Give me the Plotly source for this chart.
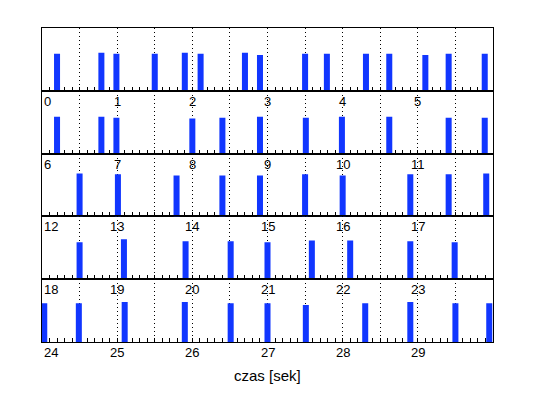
import plotly.graph_objects as go

# ---- data ----
ROW_SECONDS = 6
N_ROWS = 5
spike_times = [0.20, 0.79, 0.99, 1.50, 1.90, 2.11, 2.70, 2.90, 3.50, 3.79, 4.31, 4.62, 5.10, 5.41, 5.89,
               6.20, 6.79, 6.99, 8.00, 8.40, 8.90, 9.51, 9.99, 10.62, 11.41, 11.89,
               12.50, 13.01, 13.79, 14.40, 14.90, 15.50, 16.00, 16.90, 17.41, 17.91,
               18.50, 19.09, 19.91, 20.51, 21.00, 21.59, 22.10, 22.90, 23.49,
               24.03, 24.49, 25.10, 25.90, 26.51, 27.00, 27.51, 28.30, 28.90, 29.50, 29.95]
spike_amp = [1.00, 1.03, 1.00, 1.00, 1.03, 1.00, 1.03, 0.97, 1.00, 1.00, 1.00, 1.00, 0.97, 1.00, 1.00,
             1.00, 1.00, 0.97, 0.95, 0.97, 1.00, 0.97, 1.00, 1.00, 0.97, 0.97,
             1.16, 1.14, 1.11, 1.11, 1.11, 1.14, 1.11, 1.14, 1.14, 1.16,
             1.00, 1.08, 1.03, 1.03, 1.00, 1.05, 1.05, 1.03, 1.00,
             1.05, 1.05, 1.08, 1.08, 1.05, 1.05, 1.00, 1.05, 1.08, 1.05, 1.05]
tick_labels = [str(v) for v in range(0, 30)]
x_title = "czas [sek]"

BAR_COLOR = "#1136FF"
BAR_WIDTH = 0.08
Y_MAX = 1.70
FONT = "Liberation Sans, Arial, Helvetica, sans-serif"

fig = go.Figure()
annotations = []
layout = {}

for r in range(N_ROWS):
    t0 = r * ROW_SECONDS
    t1 = t0 + ROW_SECONDS
    xs = [t for t in spike_times if t0 <= t < t1]
    ys = [a for t, a in zip(spike_times, spike_amp) if t0 <= t < t1]
    sfx = "" if r == 0 else str(r + 1)
    fig.add_trace(go.Bar(x=xs, y=ys, width=BAR_WIDTH, marker=dict(color=BAR_COLOR, line=dict(width=0)),
                         xaxis="x" + sfx, yaxis="y" + sfx, showlegend=False, hoverinfo="skip"))
    y_lo = 1 - (r + 1) / N_ROWS
    y_hi = 1 - r / N_ROWS
    half_ticks = [t0 + 0.5 * k for k in range(2 * ROW_SECONDS + 1)]
    layout["xaxis" + sfx] = dict(
        domain=[0, 1], anchor="y" + sfx, range=[t0, t1],
        showline=True, mirror=True, linecolor="black", linewidth=1,
        tickmode="array", tickvals=half_ticks, ticks="inside", ticklen=4, tickcolor="black",
        showticklabels=False,
        showgrid=True, gridcolor="black", gridwidth=1, griddash="1px,3px",
        minor=dict(tick0=t0, dtick=0.1, ticks="inside", ticklen=4, tickcolor="black", showgrid=False),
        zeroline=False, fixedrange=True, layer="below traces",
    )
    layout["yaxis" + sfx] = dict(
        domain=[y_lo, y_hi], anchor="x" + sfx, range=[0, Y_MAX],
        showline=True, mirror=True, linecolor="black", linewidth=1,
        ticks="", showticklabels=False, showgrid=False, zeroline=False, fixedrange=True,
    )
    for k in range(ROW_SECONDS):
        v = t0 + k
        annotations.append(dict(
            x=v, y=0, xref="x" + sfx, yref="y" + sfx + " domain",
            text=tick_labels[v], showarrow=False,
            xanchor="left" if k == 0 else "center",
            yanchor="top", yshift=-1,
            font=dict(family=FONT, size=13, color="black"),
        ))

annotations.append(dict(
    x=0.5, y=0, xref="paper", yref="paper", text=x_title, showarrow=False,
    xanchor="center", yanchor="middle", yshift=-33,
    font=dict(family=FONT, size=15, color="black"),
))

fig.update_layout(
    width=530, height=390,
    margin=dict(l=34, r=45, t=20, b=56),
    paper_bgcolor="white", plot_bgcolor="white",
    annotations=annotations,
    barmode="overlay",
    font=dict(family=FONT, size=13, color="black"),
    **layout,
)

fig.write_html("out.html")
